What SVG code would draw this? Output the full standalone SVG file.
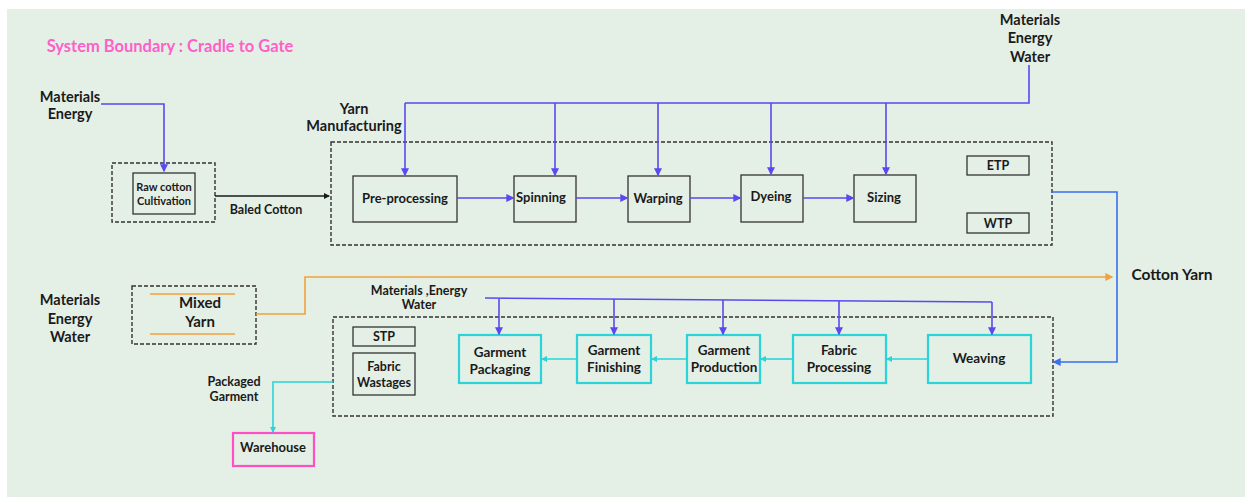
<svg xmlns="http://www.w3.org/2000/svg" width="1245" height="498" viewBox="0 0 1245 498">
<style>
text{font-family:Lato,"Liberation Sans",sans-serif;font-weight:bold;fill:#1a1a1a;text-anchor:middle}
.lbl{font-size:14.5px}
.bx{font-size:13px}
.gx{font-size:13.5px}
.sm{font-size:11px}
.md{font-size:12.5px}
.dash{fill:none;stroke:#333;stroke-width:1.4;stroke-dasharray:4 2}
.box{fill:none;stroke:#333;stroke-width:1.3}
.cy{fill:none;stroke:#2ad4d8;stroke-width:2.2}
.pu{fill:none;stroke:#5a48f0;stroke-width:1.6}
.bl{fill:none;stroke:#3a6ff0;stroke-width:1.6}
.or{fill:none;stroke:#f2a23e;stroke-width:1.6}
.bk{fill:none;stroke:#1a1a1a;stroke-width:1.3}
.cyl{fill:none;stroke:#2ad4d8;stroke-width:1.6}
</style>
<defs>
<marker id="mp" viewBox="0 0 6 6" refX="5" refY="3" markerWidth="5" markerHeight="5" orient="auto"><path d="M0,0 L6,3 L0,6 z" fill="#5a48f0"/></marker>
<marker id="mb" viewBox="0 0 6 6" refX="5" refY="3" markerWidth="5" markerHeight="5" orient="auto"><path d="M0,0 L6,3 L0,6 z" fill="#3a6ff0"/></marker>
<marker id="mo" viewBox="0 0 6 6" refX="5" refY="3" markerWidth="5" markerHeight="5" orient="auto"><path d="M0,0 L6,3 L0,6 z" fill="#f2a23e"/></marker>
<marker id="mk" viewBox="0 0 6 6" refX="5" refY="3" markerWidth="5" markerHeight="5" orient="auto"><path d="M0,0 L6,3 L0,6 z" fill="#1a1a1a"/></marker>
<marker id="mc" viewBox="0 0 6 6" refX="5" refY="3" markerWidth="4" markerHeight="4" orient="auto"><path d="M0,0 L6,3 L0,6 z" fill="#2ad4d8"/></marker>
</defs>
<rect x="0" y="0" width="1245" height="498" fill="#ffffff"/>
<rect x="7" y="9" width="1238" height="488" fill="#e4efe6"/>

<text x="170" y="52" font-size="16.5" style="fill:#ff5fc8">System Boundary : Cradle to Gate</text>

<g id="labels">
<text class="lbl" x="70" y="102">Materials</text>
<text class="lbl" x="70" y="119">Energy</text>
<text class="lbl" x="354" y="114">Yarn</text>
<text class="lbl" x="354" y="131">Manufacturing</text>
<text class="lbl" x="1030" y="25">Materials</text>
<text class="lbl" x="1030" y="43">Energy</text>
<text class="lbl" x="1030" y="62">Water</text>
<text class="md" x="266" y="214">Baled Cotton</text>
<text class="lbl" x="1172" y="280" style="font-size:15.5px">Cotton Yarn</text>
<text class="lbl" x="70" y="305">Materials</text>
<text class="lbl" x="70" y="324">Energy</text>
<text class="lbl" x="70" y="342">Water</text>
<text class="md" x="419" y="295">Materials ,Energy</text>
<text class="md" x="419" y="309">Water</text>
<text class="md" x="234" y="386">Packaged</text>
<text class="md" x="234" y="401">Garment</text>
</g>

<g id="cradle">
<rect class="dash" x="112" y="163" width="103" height="59"/>
</g>
<g id="raw-cotton">
<rect class="box" x="133" y="173" width="62" height="41"/>
<text class="sm" x="164" y="191">Raw cotton</text>
<text class="sm" x="164" y="205">Cultivation</text>
</g>

<g id="yarn-manufacturing">
<rect class="dash" x="331" y="142" width="721" height="103"/>
</g>
<g id="pre-processing"><rect class="box" x="353" y="176" width="104" height="46"/><text class="bx" x="405" y="203">Pre-processing</text></g>
<g id="spinning"><rect class="box" x="514" y="176" width="62" height="46"/><text class="bx" x="541" y="202">Spinning</text></g>
<g id="warping"><rect class="box" x="628" y="176" width="62" height="46"/><text class="bx" x="658" y="203">Warping</text></g>
<g id="dyeing"><rect class="box" x="741" y="175" width="62" height="47"/><text class="bx" x="771" y="201">Dyeing</text></g>
<g id="sizing"><rect class="box" x="854" y="175" width="62" height="47"/><text class="bx" x="884" y="202">Sizing</text></g>
<g id="etp"><rect class="box" x="967" y="156" width="62" height="19"/><text class="md" x="998" y="170">ETP</text></g>
<g id="wtp"><rect class="box" x="967" y="213" width="62" height="20"/><text class="md" x="998" y="228">WTP</text></g>

<g id="mixed-yarn">
<rect class="dash" x="132" y="286" width="124" height="58"/>
<line class="or" x1="150" y1="294" x2="235" y2="294"/>
<line class="or" x1="150" y1="334" x2="235" y2="334"/>
<text class="lbl" x="200" y="308" style="font-size:15px">Mixed</text>
<text class="lbl" x="200" y="327" style="font-size:15px">Yarn</text>
</g>

<g id="garment-manufacturing">
<rect class="dash" x="333" y="317" width="720" height="99"/>
</g>
<g id="stp"><rect class="box" x="353" y="327" width="62" height="19"/><text class="md" x="384" y="341">STP</text></g>
<g id="fabric-wastages"><rect class="box" x="353" y="353" width="62" height="42"/><text class="md" x="384" y="371">Fabric</text><text class="md" x="384" y="387">Wastages</text></g>
<g id="garment-packaging"><rect class="cy" x="459" y="335" width="82" height="48"/><text class="gx" x="500" y="357">Garment</text><text class="gx" x="500" y="374">Packaging</text></g>
<g id="garment-finishing"><rect class="cy" x="577" y="335" width="74" height="48"/><text class="gx" x="614" y="355">Garment</text><text class="gx" x="614" y="372">Finishing</text></g>
<g id="garment-production"><rect class="cy" x="687" y="335" width="73" height="48"/><text class="gx" x="724" y="355">Garment</text><text class="gx" x="724" y="372">Production</text></g>
<g id="fabric-processing"><rect class="cy" x="793" y="335" width="93" height="48"/><text class="gx" x="839" y="355">Fabric</text><text class="gx" x="839" y="372">Processing</text></g>
<g id="weaving"><rect class="cy" x="928" y="335" width="103" height="48"/><text class="gx" x="979" y="363">Weaving</text></g>

<g id="warehouse">
<rect x="233" y="433" width="81" height="33" fill="none" stroke="#ff4fc4" stroke-width="2.2"/>
<text class="bx" x="273" y="452">Warehouse</text>
</g>

<g id="connectors">
<path class="pu" d="M101,104 H164 V171" marker-end="url(#mp)"/>
<path class="bk" d="M215,196 H329" marker-end="url(#mk)"/>
<path class="pu" d="M1029,65 V103 H405"/>
<path class="pu" d="M405,103 V175" marker-end="url(#mp)"/>
<path class="pu" d="M555,103 V175" marker-end="url(#mp)"/>
<path class="pu" d="M658,103 V175" marker-end="url(#mp)"/>
<path class="pu" d="M771,103 V174" marker-end="url(#mp)"/>
<path class="pu" d="M886,103 V174" marker-end="url(#mp)"/>
<path class="pu" d="M457,198 H513" marker-end="url(#mp)"/>
<path class="pu" d="M576,198 H627" marker-end="url(#mp)"/>
<path class="pu" d="M690,198 H740" marker-end="url(#mp)"/>
<path class="pu" d="M803,198 H853" marker-end="url(#mp)"/>
<path class="bl" d="M1052,192 H1117 V362 H1054" marker-end="url(#mb)"/>
<path class="or" d="M256,314 H305 V277 H1112" marker-end="url(#mo)"/>
<path class="pu" d="M485,298 L992,302"/>
<path class="pu" d="M499,299 V334" marker-end="url(#mp)"/>
<path class="pu" d="M614,299 V334" marker-end="url(#mp)"/>
<path class="pu" d="M723,300 V334" marker-end="url(#mp)"/>
<path class="pu" d="M839,301 V334" marker-end="url(#mp)"/>
<path class="pu" d="M992,302 V334" marker-end="url(#mp)"/>
<path class="cyl" d="M928,359 H887" marker-end="url(#mc)"/>
<path class="cyl" d="M793,359 H761" marker-end="url(#mc)"/>
<path class="cyl" d="M687,359 H652" marker-end="url(#mc)"/>
<path class="cyl" d="M577,359 H542" marker-end="url(#mc)"/>
<path class="cyl" d="M333,382 H273 V432" marker-end="url(#mc)"/>
</g>
</svg>
